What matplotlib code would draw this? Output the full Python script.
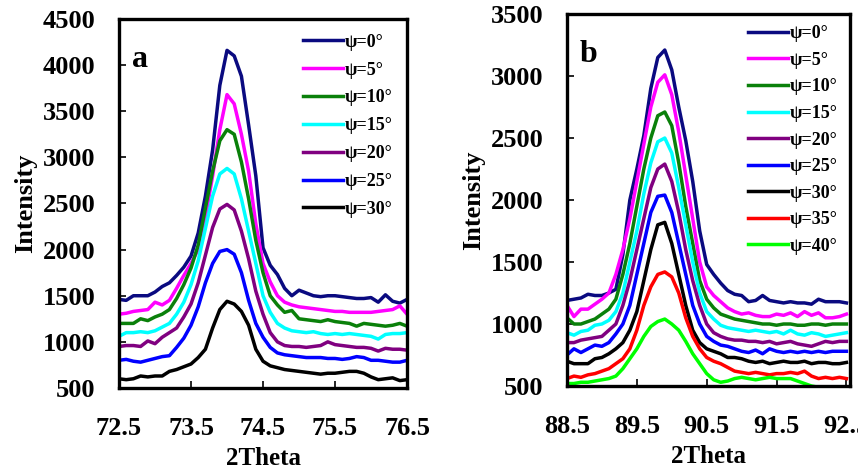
import matplotlib
matplotlib.use("Agg")
import matplotlib.pyplot as plt

plt.rcParams['font.family'] = ['Liberation Serif', 'DejaVu Serif']
plt.rcParams['font.weight'] = 'bold'

# panel a: 2theta grid and intensities per psi
theta_a = [72.5, 72.6, 72.7, 72.8, 72.9, 73.0, 73.1, 73.2, 73.3, 73.4,
           73.5, 73.6, 73.7, 73.8, 73.9, 74.0, 74.1, 74.2, 74.3, 74.4,
           74.5, 74.6, 74.7, 74.8, 74.9, 75.0, 75.1, 75.2, 75.3, 75.4,
           75.5, 75.6, 75.7, 75.8, 75.9, 76.0, 76.1, 76.2, 76.3, 76.4, 76.5]
psi_a = ["0", "5", "10", "15", "20", "25", "30"]
a_psi0 = [1460, 1450, 1500, 1500, 1500, 1540, 1600, 1640, 1720, 1810,
          1930, 2180, 2580, 3080, 3780, 4160, 4100, 3880, 3350, 2800,
          2020, 1830, 1730, 1580, 1500, 1560, 1530, 1500, 1490, 1500,
          1500, 1490, 1480, 1470, 1470, 1480, 1430, 1510, 1440, 1420, 1460]
a_psi5 = [1300, 1310, 1330, 1340, 1350, 1430, 1400, 1450, 1580, 1720,
          1850, 2000, 2350, 2800, 3300, 3680, 3580, 3250, 2850, 2280,
          1850, 1650, 1500, 1430, 1400, 1380, 1370, 1360, 1350, 1340,
          1330, 1330, 1320, 1320, 1320, 1320, 1330, 1340, 1350, 1390, 1300]
a_psi10 = [1200, 1200, 1200, 1250, 1230, 1270, 1300, 1350, 1470, 1620,
           1800, 2050, 2450, 2850, 3180, 3300, 3250, 2950, 2550, 2100,
           1750, 1500, 1400, 1320, 1340, 1250, 1240, 1230, 1220, 1240,
           1220, 1210, 1200, 1170, 1200, 1190, 1180, 1170, 1180, 1200, 1170]
a_psi15 = [1060, 1100, 1100, 1110, 1100, 1120, 1160, 1200, 1300, 1430,
           1620, 1880, 2230, 2580, 2820, 2880, 2820, 2550, 2200, 1850,
           1500, 1320, 1200, 1150, 1120, 1110, 1100, 1110, 1090, 1080,
           1090, 1080, 1090, 1080, 1070, 1060, 1030, 1080, 1090, 1090, 1100]
a_psi20 = [950, 960, 960, 950, 1010, 980, 1050, 1100, 1150, 1270,
           1410, 1640, 1940, 2240, 2440, 2490, 2430, 2200, 1900, 1550,
           1300, 1100, 1000, 960, 950, 950, 940, 950, 960, 1000,
           970, 960, 950, 940, 940, 930, 900, 930, 920, 920, 910]
a_psi25 = [800, 810, 790, 780, 800, 820, 840, 850, 940, 1040,
           1180, 1380, 1640, 1850, 1980, 2000, 1950, 1750, 1450, 1200,
           1050, 940, 880, 860, 850, 840, 830, 830, 830, 820,
           820, 810, 820, 840, 830, 800, 800, 790, 780, 780, 800]
a_psi30 = [600, 590, 600, 630, 620, 630, 630, 680, 700, 730,
           760, 830, 920, 1150, 1350, 1440, 1410, 1330, 1180, 920,
           790, 740, 720, 700, 690, 680, 670, 660, 650, 660,
           660, 670, 680, 680, 660, 620, 590, 600, 610, 580, 590]

# panel b
theta_b = [88.5, 88.6, 88.7, 88.8, 88.9, 89.0, 89.1, 89.2, 89.3, 89.4,
           89.5, 89.6, 89.7, 89.8, 89.9, 90.0, 90.1, 90.2, 90.3, 90.4,
           90.5, 90.6, 90.7, 90.8, 90.9, 91.0, 91.1, 91.2, 91.3, 91.4,
           91.5, 91.6, 91.7, 91.8, 91.9, 92.0, 92.1, 92.2, 92.3, 92.4, 92.5]
psi_b = ["0", "5", "10", "15", "20", "25", "30", "35", "40"]
b_psi0 = [1190, 1200, 1210, 1240, 1230, 1230, 1250, 1280, 1560, 2000,
          2250, 2520, 2900, 3150, 3210, 3050, 2750, 2480, 2150, 1750,
          1480, 1400, 1330, 1270, 1240, 1230, 1180, 1190, 1230, 1190,
          1180, 1170, 1180, 1170, 1170, 1160, 1200, 1180, 1180, 1180, 1170]
b_psi5 = [1150, 1060, 1120, 1120, 1160, 1200, 1250, 1400, 1600, 1850,
          2150, 2450, 2750, 2950, 3010, 2850, 2550, 2200, 1850, 1500,
          1300, 1230, 1180, 1130, 1100, 1080, 1090, 1070, 1060, 1060,
          1080, 1070, 1090, 1060, 1100, 1070, 1090, 1050, 1050, 1060, 1080]
b_psi10 = [1050, 1000, 1000, 1020, 1040, 1080, 1120, 1200, 1400, 1650,
           1950, 2250, 2500, 2680, 2710, 2600, 2300, 1950, 1650, 1350,
           1200, 1130, 1080, 1060, 1040, 1030, 1020, 1010, 1000, 1000,
           990, 1000, 1000, 990, 990, 1000, 1000, 990, 1000, 1000, 1000]
b_psi15 = [930, 910, 940, 950, 990, 1000, 1030, 1100, 1250, 1500,
           1750, 2050, 2300, 2470, 2500, 2380, 2100, 1800, 1500, 1250,
           1100, 1040, 990, 970, 960, 950, 940, 950, 940, 930,
           940, 920, 950, 920, 910, 930, 920, 900, 910, 920, 930]
b_psi20 = [850, 850, 870, 880, 890, 900, 950, 1000, 1150, 1350,
           1600, 1850, 2100, 2250, 2290, 2150, 1900, 1600, 1350, 1150,
           1000, 930, 900, 880, 870, 870, 860, 860, 850, 860,
           840, 850, 860, 840, 830, 820, 840, 860, 850, 860, 860]
b_psi25 = [750, 800, 770, 800, 830, 820, 850, 920, 1000, 1150,
           1400, 1650, 1900, 2030, 2040, 1900, 1650, 1400, 1150, 1000,
           900, 860, 830, 820, 800, 780, 770, 790, 760, 800,
           780, 770, 780, 770, 780, 770, 780, 770, 780, 780, 780]
b_psi30 = [700, 680, 680, 680, 720, 730, 760, 800, 850, 950,
           1100, 1350, 1600, 1800, 1820, 1650, 1400, 1150, 950, 850,
           800, 780, 760, 730, 730, 720, 700, 690, 700, 680,
           690, 700, 690, 690, 700, 680, 690, 690, 680, 680, 690]
b_psi35 = [560, 580, 570, 590, 600, 620, 640, 680, 720, 800,
           950, 1150, 1300, 1400, 1420, 1380, 1250, 1050, 900, 800,
           730, 700, 680, 650, 620, 610, 600, 610, 600, 590,
           600, 600, 610, 600, 620, 580, 560, 570, 560, 570, 560]
b_psi40 = [520, 520, 530, 530, 540, 550, 560, 580, 640, 720,
           800, 900, 980, 1020, 1040, 1000, 950, 860, 760, 680,
           600, 550, 530, 540, 560, 570, 560, 550, 560, 570,
           560, 560, 560, 540, 520, 500, 490, 490, 490, 490, 490]

colors = ['#0a0a80', '#ff00ff', '#0a800a', '#00ffff', '#800080',
          '#0000ff', '#000000', '#ff0000', '#00ff00']


def style_axes(ax, xticks, yticks, xlim, ylim, letter):
    ax.set_xlim(*xlim)
    ax.set_ylim(*ylim)
    ax.set_xticks(xticks)
    ax.set_yticks(yticks)
    ax.set_xticklabels([f"{t:.1f}" for t in xticks])
    ax.tick_params(axis='x', direction='in', length=5, width=1.2, pad=21,
                   labelsize=19, top=False)
    ax.tick_params(axis='y', direction='in', length=5, width=1.2, pad=17,
                   labelsize=19, right=False)
    for s in ax.spines.values():
        s.set_linewidth(2.4)
    ax.set_xlabel('2Theta', fontsize=18, fontweight='bold', labelpad=5)
    ax.text(0.045, 0.89, letter, transform=ax.transAxes, fontsize=23,
            fontweight='bold', va='center', ha='left')


fig = plt.figure(figsize=(8.58, 4.72), dpi=100)

ax1 = fig.add_axes([0.1387, 0.178, 0.3357, 0.7818])
series_a = [a_psi0, a_psi5, a_psi10, a_psi15, a_psi20, a_psi25, a_psi30]
for i, (psi, vals) in enumerate(zip(psi_a, series_a)):
    ax1.plot(theta_a, vals, color=colors[i], lw=2.5, label=f"ψ={psi}°")
style_axes(ax1, [72.5, 73.5, 74.5, 75.5, 76.5], list(range(500, 4501, 500)),
           (72.5, 76.5), (500, 4500), 'a')
ax1.set_ylabel('Intensity', fontsize=19, fontweight='bold', labelpad=4)
ax1.legend(loc='upper left', bbox_to_anchor=(0.64, 0.96), frameon=False,
           fontsize=13, handlelength=2.2, handletextpad=0.1,
           labelspacing=0.6, borderpad=0, borderaxespad=0)

ax2 = fig.add_axes([0.6608, 0.1822, 0.3298, 0.788])
series_b = [b_psi0, b_psi5, b_psi10, b_psi15, b_psi20, b_psi25, b_psi30,
            b_psi35, b_psi40]
for i, (psi, vals) in enumerate(zip(psi_b, series_b)):
    ax2.plot(theta_b, vals, color=colors[i], lw=2.5, label=f"ψ={psi}°")
style_axes(ax2, [88.5, 89.5, 90.5, 91.5, 92.5], list(range(500, 3501, 500)),
           (88.5, 92.55), (500, 3500), 'b')
ax2.set_ylabel('Intensity', fontsize=19, fontweight='bold', labelpad=4)
ax2.legend(loc='upper left', bbox_to_anchor=(0.64, 0.97), frameon=False,
           fontsize=13, handlelength=2.2, handletextpad=0.1,
           labelspacing=0.53, borderpad=0, borderaxespad=0)

fig.savefig('out.png', dpi=100)
